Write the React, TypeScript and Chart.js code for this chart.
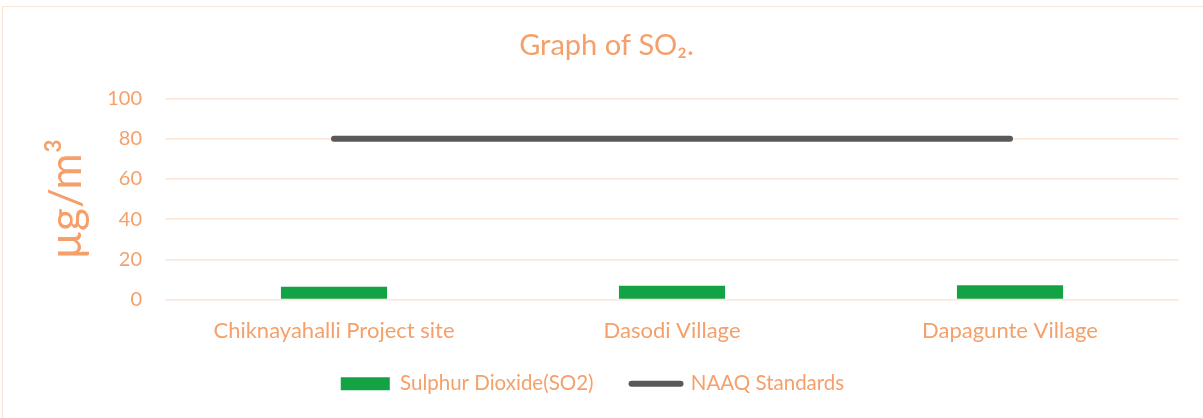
import React, { useEffect, useRef } from 'react';
import { Chart, registerables } from 'chart.js';

Chart.register(...registerables);

const categories = ['Chiknayahalli Project site', 'Dasodi Village', 'Dapagunte Village'];
const so2Values = [6.4, 6.8, 7.1];
const naaqValues = [80, 80, 80];
const yTickValues = [0, 20, 40, 60, 80, 100];
const seriesLabels = ['Sulphur Dioxide(SO2)', 'NAAQ Standards'];
const titleText = 'Graph of SO₂.';
const yAxisTitle = 'µg/m³';

const TEXT = '#F5A06A';
const GRID = '#FCE4D6';
const GREEN = '#13A345';
const GREY = '#595959';
const FONT = 'Lato';

const adjustBlocks = {
  id: 'adjustBlocks',
  afterLayout(chart: any) {
    const t = chart.titleBlock;
    if (t) {
      t.left += 17;
      t.right += 17;
    }
    const l = chart.legend;
    if (l) {
      l.top -= 14;
      l.bottom -= 14;
      l.left += 3;
      l.right += 3;
    }
  },
};

export default function App() {
  const ref = useRef<HTMLCanvasElement>(null);

  useEffect(() => {
    const chart = new Chart(ref.current as HTMLCanvasElement, {
      type: 'bar',
      data: {
        labels: categories,
        datasets: [
          {
            type: 'bar',
            label: seriesLabels[0],
            data: so2Values,
            backgroundColor: GREEN,
            borderWidth: 0,
            barPercentage: 0.314,
            categoryPercentage: 1,
          },
          {
            type: 'line',
            label: seriesLabels[1],
            data: naaqValues,
            borderColor: GREY,
            backgroundColor: GREY,
            borderWidth: 6,
            borderCapStyle: 'round',
            pointRadius: 0,
          },
        ] as any,
      },
      options: {
        responsive: false,
        animation: false,
        layout: { padding: { left: 0, right: 24, top: 0, bottom: 0 } },
        plugins: {
          title: {
            display: true,
            text: titleText,
            color: TEXT,
            font: { family: FONT, size: 29, weight: 'normal' },
            padding: { top: 28, bottom: 98.5 - 28 - 29 * 1.2 },
          },
          legend: {
            position: 'bottom',
            labels: {
              color: TEXT,
              font: { family: FONT, size: 20.5 },
              usePointStyle: true,
              pointStyleWidth: 49,
              boxHeight: 13,
              padding: 38,
              generateLabels: (c: any) => {
                const items = (Chart.defaults.plugins.legend.labels as any).generateLabels(c);
                items.sort((a: any, b: any) => a.datasetIndex - b.datasetIndex);
                items.forEach((it: any) => {
                  if (it.datasetIndex === 0) {
                    it.pointStyle = 'rect';
                    it.lineWidth = 0;
                    it.fillStyle = GREEN;
                    it.strokeStyle = GREEN;
                  } else {
                    it.pointStyle = 'line';
                    it.lineWidth = 6;
                    it.lineCap = 'round';
                    it.strokeStyle = GREY;
                  }
                });
                return items;
              },
            },
          },
          tooltip: { enabled: false },
        },
        scales: {
          x: {
            grid: { display: false },
            border: { display: false },
            ticks: {
              color: TEXT,
              font: { family: FONT, size: 22 },
              padding: 10,
              maxRotation: 0,
              autoSkip: false,
            },
            afterFit: (s: any) => {
              s.height = 50;
            },
          },
          y: {
            min: 0,
            max: 100,
            afterBuildTicks: (s: any) => {
              s.ticks = yTickValues.map((v) => ({ value: v }));
            },
            grid: { color: GRID, lineWidth: 1.5, drawTicks: false },
            border: { display: false },
            ticks: {
              color: TEXT,
              font: { family: FONT, size: 20 },
              padding: 23,
            },
            title: {
              display: true,
              text: yAxisTitle,
              color: TEXT,
              font: { family: FONT, size: 44 },
              padding: { top: 40, bottom: 0 },
            },
            afterFit: (s: any) => {
              s.width = 165;
            },
          },
        },
      } as any,
      plugins: [adjustBlocks],
    });
    return () => chart.destroy();
  }, []);

  return (
    <div
      style={{
        position: 'fixed',
        left: 0,
        top: 0,
        width: 1203,
        height: 418,
        overflow: 'hidden',
        background: '#ffffff',
      }}
    >
      <div
        style={{
          position: 'absolute',
          left: 2,
          top: 6,
          width: 1300,
          height: 500,
          border: `1.5px solid ${GRID}`,
          boxSizing: 'border-box',
        }}
      />
      <canvas
        ref={ref}
        width={1203}
        height={418}
        style={{ position: 'absolute', left: 0, top: 0, display: 'block' }}
      />
    </div>
  );
}
